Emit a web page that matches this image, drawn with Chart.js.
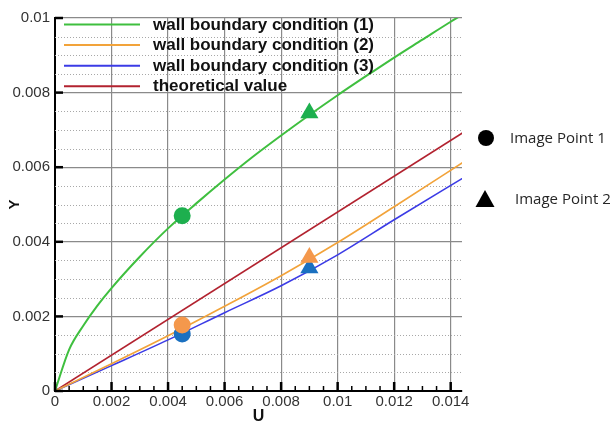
<!DOCTYPE html>
<html>
<head>
<meta charset="utf-8">
<script src="https://cdn.jsdelivr.net/npm/chart.js@4.4.1/dist/chart.umd.min.js"></script>
<style>
  html, body { margin: 0; padding: 0; background: #fff; }
  #wrap { width: 614px; height: 422px; }
</style>
</head>
<body>
<div id="wrap"><canvas id="plot" width="614" height="422"></canvas></div>
<script>
// ---- data (U, Y) ----
const uWall1 = [0, 0.0005, 0.001, 0.0015, 0.002, 0.003, 0.004, 0.005, 0.006, 0.007, 0.008, 0.009, 0.010, 0.011, 0.012, 0.013, 0.014, 0.0145];
const yWall1 = [0, 0.00111, 0.00175, 0.00229, 0.00276, 0.0036, 0.00436, 0.00503, 0.00567, 0.00628, 0.00685, 0.0074, 0.00793, 0.00844, 0.00894, 0.00942, 0.0099, 0.01013];

const uWall2 = [0, 0.002, 0.004, 0.006, 0.008, 0.010, 0.012, 0.0145];
const yWall2 = [0, 0.00073, 0.00148, 0.00227, 0.00309, 0.00398, 0.00494, 0.00616];

const uWall3 = [0, 0.002, 0.004, 0.006, 0.008, 0.010, 0.012, 0.0145];
const yWall3 = [0, 0.00068, 0.00137, 0.0021, 0.00282, 0.00365, 0.00459, 0.00574];

const uTheory = [0, 0.0145];
const yTheory = [0, 0.00696];

// image points: [point 1, point 2]
const uPoints = [0.0045, 0.009];
const yPointsGreen = [0.0047, 0.00745];
const yPointsOrange = [0.00177, 0.00358];
const yPointsBlue = [0.00153, 0.0033];

const seriesNames = ['wall boundary condition (1)', 'wall boundary condition (2)', 'wall boundary condition (3)', 'theoretical value'];
const seriesColors = ['#3fbf3f', '#f2a33a', '#3b3be6', '#b2222f'];
const pointNames = ['Image Point 1', 'Image Point 2'];

const xTicks = [0, 0.002, 0.004, 0.006, 0.008, 0.01, 0.012, 0.014];
const yTicks = [0, 0.002, 0.004, 0.006, 0.008, 0.01];

const FONT = "'Liberation Sans', Arial, sans-serif";

const toXY = (us, ys) => us.map((u, i) => ({x: u, y: ys[i]}));

// dotted minor lines every 0.0005 on Y
const minorGrid = {
    id: 'minorGrid',
    beforeDatasetsDraw(chart) {
        const {ctx, chartArea: a, scales: {y}} = chart;
        ctx.save();
        ctx.strokeStyle = '#a8a8a8';
        ctx.lineWidth = 1;
        ctx.setLineDash([1, 2]);
        for (let k = 1; k < 20; k++) {
            if (k % 4 === 0) continue;
            const py = Math.round(y.getPixelForValue(k * 0.0005)) + 0.5;
            ctx.beginPath();
            ctx.moveTo(a.left, py);
            ctx.lineTo(a.right, py);
            ctx.stroke();
        }
        ctx.restore();
    }
};

// inward tick marks on the axes
const innerTicks = {
    id: 'innerTicks',
    afterDraw(chart) {
        const {ctx, chartArea: a, scales: {x, y}} = chart;
        ctx.save();
        ctx.strokeStyle = '#000';
        for (let k = 0; k <= 28; k++) {
            const px = x.getPixelForValue(k * 0.0005);
            const major = k % 4 === 0;
            ctx.lineWidth = major ? 2.5 : 1.5;
            ctx.beginPath();
            ctx.moveTo(px, a.bottom);
            ctx.lineTo(px, a.bottom - (major ? 9 : 5));
            ctx.stroke();
        }
        yTicks.forEach(v => {
            const py = y.getPixelForValue(v);
            ctx.lineWidth = 2.5;
            ctx.beginPath();
            ctx.moveTo(a.left, py);
            ctx.lineTo(a.left + 8, py);
            ctx.stroke();
        });
        ctx.restore();
    }
};

// legends: line key top-left inside the plot, marker key on the right
const keys = {
    id: 'keys',
    afterDatasetsDraw(chart) {
        const {ctx, chartArea: a} = chart;
        ctx.save();
        ctx.font = 'bold 17px ' + FONT;
        ctx.textBaseline = 'middle';
        ctx.fillStyle = '#111';
        seriesNames.forEach((name, i) => {
            const ly = a.top + 6.5 + i * 20.6;
            ctx.strokeStyle = seriesColors[i];
            ctx.lineWidth = 2;
            ctx.beginPath();
            ctx.moveTo(a.left + 9, ly);
            ctx.lineTo(a.left + 85, ly);
            ctx.stroke();
            ctx.fillText(name, a.left + 98, ly + 0.5);
        });

        ctx.fillStyle = '#000';
        ctx.beginPath();
        ctx.arc(486, 138, 8, 0, Math.PI * 2);
        ctx.fill();
        ctx.beginPath();
        ctx.moveTo(485, 190);
        ctx.lineTo(494.5, 207);
        ctx.lineTo(475.5, 207);
        ctx.closePath();
        ctx.fill();

        ctx.font = "15px 'Open Sans', 'Noto Sans', sans-serif";
        ctx.fillStyle = '#262626';
        ctx.fillText(pointNames[0], 510, 139);
        ctx.fillText(pointNames[1], 515, 200);
        ctx.restore();
    }
};

const lineSet = (i, us, ys, width) => ({
    label: seriesNames[i],
    data: toXY(us, ys),
    borderColor: seriesColors[i],
    borderWidth: width,
    pointRadius: 0,
    cubicInterpolationMode: 'monotone',
    fill: false,
    order: 10 + i
});

const markerSet = (ys, color, order) => ({
    data: toXY(uPoints, ys),
    showLine: false,
    pointStyle: ['circle', 'triangle'],
    pointRadius: [8.5, 10.5],
    backgroundColor: color,
    borderColor: color,
    borderWidth: 0,
    order: order
});

new Chart(document.getElementById('plot'), {
    type: 'line',
    data: {
        datasets: [
            lineSet(0, uWall1, yWall1, 2),
            lineSet(1, uWall2, yWall2, 1.6),
            lineSet(2, uWall3, yWall3, 1.6),
            lineSet(3, uTheory, yTheory, 1.6),
            markerSet(yPointsBlue, '#1a70c0', 3),
            markerSet(yPointsOrange, '#f4984c', 2),
            markerSet(yPointsGreen, '#1daf4e', 1)
        ]
    },
    options: {
        responsive: false,
        animation: false,
        layout: { padding: { left: 0, top: 18, right: 152, bottom: 0 } },
        plugins: {
            legend: { display: false },
            tooltip: { enabled: false }
        },
        scales: {
            x: {
                type: 'linear',
                min: 0,
                max: 0.0144,
                afterFit(scale) { scale.height = 31; },
                afterBuildTicks(scale) { scale.ticks = xTicks.map(v => ({value: v})); },
                ticks: {
                    padding: 2,
                    color: '#333',
                    font: { family: FONT, size: 15 },
                    callback: v => String(+v.toFixed(4))
                },
                grid: { color: '#8a8a8a', lineWidth: 1.2, drawTicks: false },
                border: { color: '#000', width: 2 },
                title: {
                    display: true,
                    text: 'U',
                    color: '#111',
                    font: { family: FONT, size: 16, weight: 'bold' },
                    padding: { top: 0, bottom: -4 }
                }
            },
            y: {
                type: 'linear',
                min: 0,
                max: 0.01,
                afterFit(scale) { scale.width = 55; },
                afterBuildTicks(scale) { scale.ticks = yTicks.map(v => ({value: v})); },
                ticks: {
                    padding: 5,
                    color: '#333',
                    font: { family: FONT, size: 15 },
                    callback: v => String(+v.toFixed(4))
                },
                grid: { color: '#8a8a8a', lineWidth: 1.2, drawTicks: false },
                border: { color: '#000', width: 2 },
                title: {
                    display: true,
                    text: 'Y',
                    color: '#111',
                    font: { family: FONT, size: 15, weight: 'bold' },
                    padding: { top: 6, bottom: 0 }
                }
            }
        }
    },
    plugins: [minorGrid, innerTicks, keys]
});
</script>
</body>
</html>
